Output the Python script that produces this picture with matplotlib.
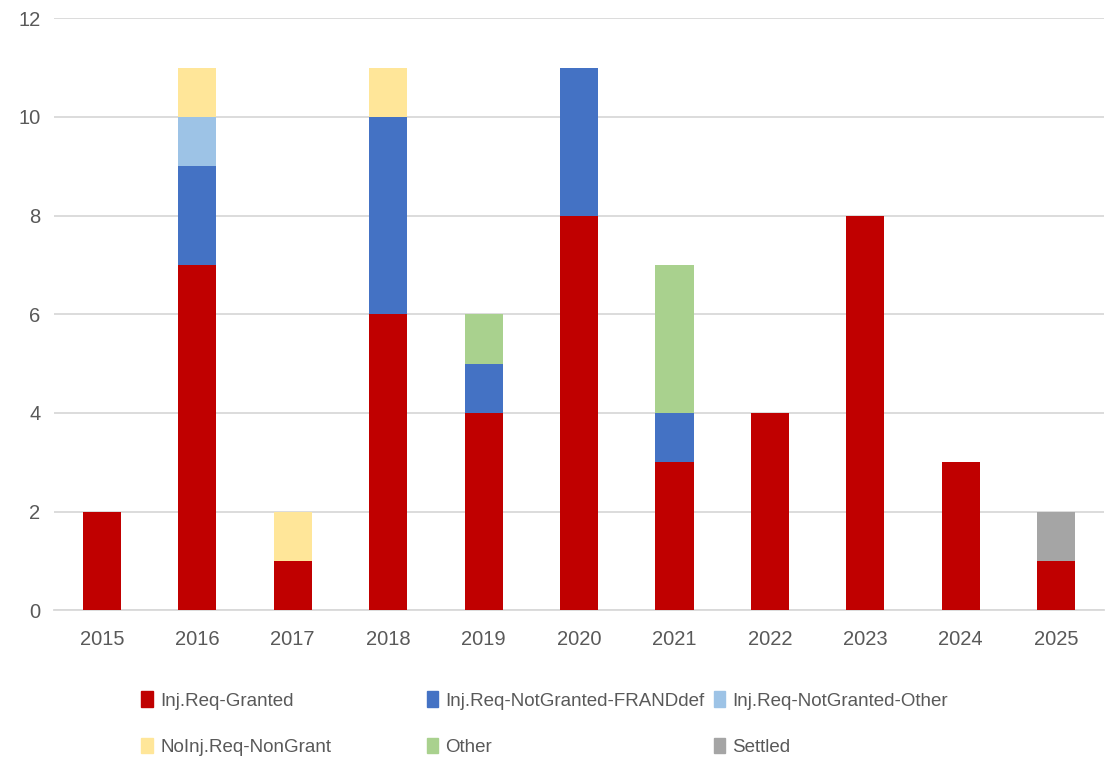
import numpy as np
import matplotlib
matplotlib.use("Agg")
import matplotlib.pyplot as plt
from matplotlib.patches import Patch

plt.rcParams["font.family"] = ["Liberation Sans", "DejaVu Sans"]

years = ["2015", "2016", "2017", "2018", "2019", "2020", "2021", "2022", "2023", "2024", "2025"]
granted = [2, 7, 1, 6, 4, 8, 3, 4, 8, 3, 1]
frand_def = [0, 2, 0, 4, 1, 3, 1, 0, 0, 0, 0]
ng_other = [0, 1, 0, 0, 0, 0, 0, 0, 0, 0, 0]
non_grant = [0, 1, 1, 1, 0, 0, 0, 0, 0, 0, 0]
other = [0, 0, 0, 0, 1, 0, 3, 0, 0, 0, 0]
settled = [0, 0, 0, 0, 0, 0, 0, 0, 0, 0, 1]

series = [
    ("Inj.Req-Granted", granted, "#C00000"),
    ("Inj.Req-NotGranted-FRANDdef", frand_def, "#4472C4"),
    ("Inj.Req-NotGranted-Other", ng_other, "#9DC3E6"),
    ("NoInj.Req-NonGrant", non_grant, "#FFE699"),
    ("Other", other, "#A9D18E"),
    ("Settled", settled, "#A5A5A5"),
]

fig = plt.figure(figsize=(11.05, 7.59), dpi=100)
ax = fig.add_axes([0.049, 0.196, 0.95, 0.78])

x = np.arange(len(years))
bottom = np.zeros(len(years))
for name, vals, col in series:
    v = np.array(vals, dtype=float)
    ax.bar(x, v, 0.4, bottom=bottom, color=col, zorder=3)
    bottom += v

ax.set_xlim(-0.5, len(years) - 0.5)
ax.set_ylim(0, 12)
ax.set_yticks(range(0, 13, 2))
ax.set_xticks(x, years)
ax.grid(axis="y", color="#D9D9D9", lw=1.3, zorder=0)
for s in ["top", "right", "left"]:
    ax.spines[s].set_visible(False)
ax.spines["bottom"].set_color("#D9D9D9")
ax.spines["bottom"].set_linewidth(1.3)
ax.tick_params(length=0, labelsize=14.5, colors="#595959", pad=14)
ax.tick_params(axis="y", pad=10)

# legend: three columns placed like the original
cols = [(0.128, [0, 3]), (0.386, [1, 4]), (0.646, [2, 5])]
for xpos, idx in cols:
    handles = [Patch(color=series[i][2], label=series[i][0]) for i in idx]
    leg = fig.legend(handles=handles, loc="upper left", bbox_to_anchor=(xpos, 0.089),
                     frameon=False, fontsize=13.5, handlelength=0.6, handleheight=0.9,
                     handletextpad=0.4, labelspacing=1.5, borderaxespad=0, borderpad=0)
    for t in leg.get_texts():
        t.set_color("#595959")

fig.savefig("out.png", dpi=100)
